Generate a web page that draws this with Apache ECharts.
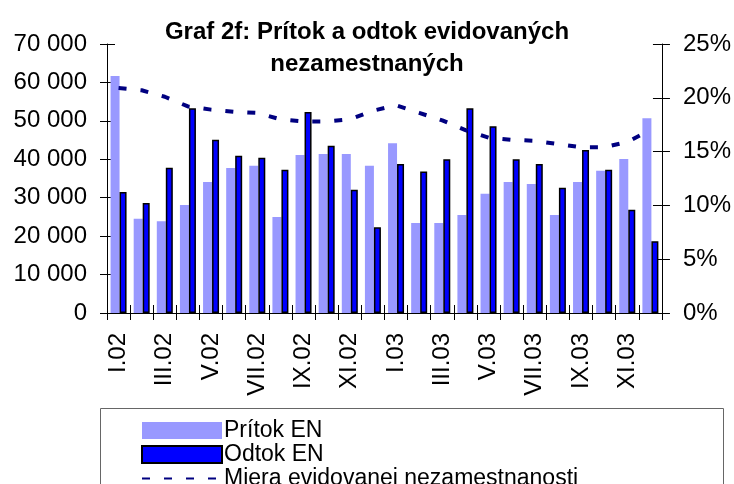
<!DOCTYPE html>
<html>
  <head>
    <meta charset="utf-8" />
    <title>Graf 2f</title>
    <script src="https://cdn.jsdelivr.net/npm/echarts@6/dist/echarts.min.js"></script>
  </head>

  <body style="margin: 0">
    <div id="main" style="width: 734px; height: 484px"></div>
    <script type="text/javascript">
      var myChart = echarts.init(document.getElementById("main"));

      // months I.02 .. XII.03
      var categories = [
        "I.02", "II.02", "III.02", "IV.02", "V.02", "VI.02",
        "VII.02", "VIII.02", "IX.02", "X.02", "XI.02", "XII.02",
        "I.03", "II.03", "III.03", "IV.03", "V.03", "VI.03",
        "VII.03", "VIII.03", "IX.03", "X.03", "XI.03", "XII.03"
      ];
      var pritok = [
        61700, 24500, 23900, 28100, 34100, 37700, 38300, 25000, 41100, 41400, 41400, 38300,
        44200, 23400, 23400, 25500, 31000, 34100, 33600, 25500, 34100, 37000, 40100, 50700
      ];
      var odtok = [
        31500, 28600, 37800, 53300, 45100, 40900, 40400, 37300, 52300, 43500, 32100, 22300,
        38800, 36800, 40000, 53300, 48600, 40000, 38800, 32600, 42400, 37300, 26900, 18700
      ];
      // miera evidovanej nezamestnanosti, %
      var miera = [
        20.9, 20.7, 20.1, 19.2, 18.9, 18.7, 18.6, 18.0, 17.8, 17.8, 18.0, 18.8,
        19.3, 18.6, 17.9, 17.0, 16.3, 16.1, 16.0, 15.7, 15.4, 15.4, 15.9, 17.0
      ];

      var font = "Liberation Sans";

      function fmtThousands(v) {
        return String(v).replace(/\B(?=(\d{3})+(?!\d))/g, " ");
      }

      // extra axes only draw the inner half of the crossing tick marks
      var innerTicks = {
        axisLine: { show: false },
        axisLabel: { show: false },
        splitLine: { show: false },
      };

      option = {
        animation: false,
        backgroundColor: "#fff",
        textStyle: { fontFamily: font, color: "#000" },
        title: {
          text: "Graf 2f: Prítok a odtok evidovaných\nnezamestnaných",
          left: "center",
          top: 11,
          padding: [5, 0, 5, 14],
          textStyle: {
            fontFamily: font,
            fontSize: 24,
            fontWeight: "bold",
            lineHeight: 32,
            color: "#000",
          },
        },
        graphic: [
          {
            type: "rect",
            shape: { x: 100.5, y: 408.5, width: 623, height: 100 },
            style: { fill: "none", stroke: "#666", lineWidth: 1 },
            z: 0,
          },
        ],
        legend: {
          type: "plain",
          orient: "vertical",
          left: 136,
          top: 414,
          height: 120,
          itemWidth: 80,
          itemHeight: 17,
          itemGap: 1,
          textStyle: { fontFamily: font, fontSize: 23, color: "#000", padding: [0, 0, 0, -3] },
          data: [
            { name: "Prítok EN", icon: "rect" },
            { name: "Odtok EN", icon: "rect" },
            { name: "Miera evidovanej nezamestnanosti", itemStyle: { opacity: 0 } },
          ],
        },
        grid: {
          left: 107,
          right: 72,
          top: 44,
          bottom: 171,
        },
        xAxis: [
          {
            type: "category",
            data: categories,
            axisLine: { lineStyle: { color: "#000", width: 1 } },
            axisTick: { show: true, interval: 0, length: 7, lineStyle: { color: "#000" } },
            axisLabel: {
              interval: 1,
              rotate: 90,
              margin: 20,
              fontSize: 24,
              fontFamily: font,
              color: "#000",
            },
            splitLine: { show: false },
          },
          Object.assign(
            {
              type: "category",
              data: categories,
              position: "bottom",
              axisTick: { show: true, inside: true, interval: 0, length: 8, lineStyle: { color: "#000" } },
            },
            innerTicks
          ),
        ],
        yAxis: [
          {
            type: "value",
            min: 0,
            max: 70000,
            interval: 10000,
            axisLine: { show: true, lineStyle: { color: "#000" } },
            axisTick: { show: true, length: 7, lineStyle: { color: "#000" } },
            axisLabel: {
              margin: 20,
              fontSize: 24,
              fontFamily: font,
              color: "#000",
              formatter: fmtThousands,
            },
            splitLine: { show: false },
          },
          {
            type: "value",
            min: 0,
            max: 25,
            interval: 5,
            position: "right",
            axisLine: { show: true, lineStyle: { color: "#000" } },
            axisTick: { show: true, length: 8, lineStyle: { color: "#000" } },
            axisLabel: {
              margin: 21,
              fontSize: 24,
              fontFamily: font,
              color: "#000",
              formatter: "{value}%",
            },
            splitLine: { show: false },
          },
          Object.assign(
            {
              type: "value",
              min: 0,
              max: 70000,
              interval: 10000,
              position: "left",
              axisTick: { show: true, inside: true, length: 8, lineStyle: { color: "#000" } },
            },
            innerTicks
          ),
          Object.assign(
            {
              type: "value",
              min: 0,
              max: 25,
              interval: 5,
              position: "right",
              axisTick: { show: true, inside: true, length: 9, lineStyle: { color: "#000" } },
            },
            innerTicks
          ),
        ],
        series: [
          {
            name: "Prítok EN",
            type: "bar",
            data: pritok,
            barWidth: 9,
            barGap: 0,
            itemStyle: { color: "#9999ff" },
          },
          {
            name: "Odtok EN",
            type: "bar",
            data: odtok,
            barWidth: 7,
            barGap: 0,
            itemStyle: { color: "#0000ff", borderColor: "#000", borderWidth: 1.5 },
          },
          {
            name: "Miera evidovanej nezamestnanosti",
            type: "line",
            yAxisIndex: 1,
            data: miera,
            symbol: "none",
            smooth: false,
            itemStyle: { color: "#000080" },
            lineStyle: { color: "#000080", width: 4, type: [8, 14] },
            z: 5,
          },
        ],
      };

      myChart.setOption(option);
    </script>
  </body>
</html>
